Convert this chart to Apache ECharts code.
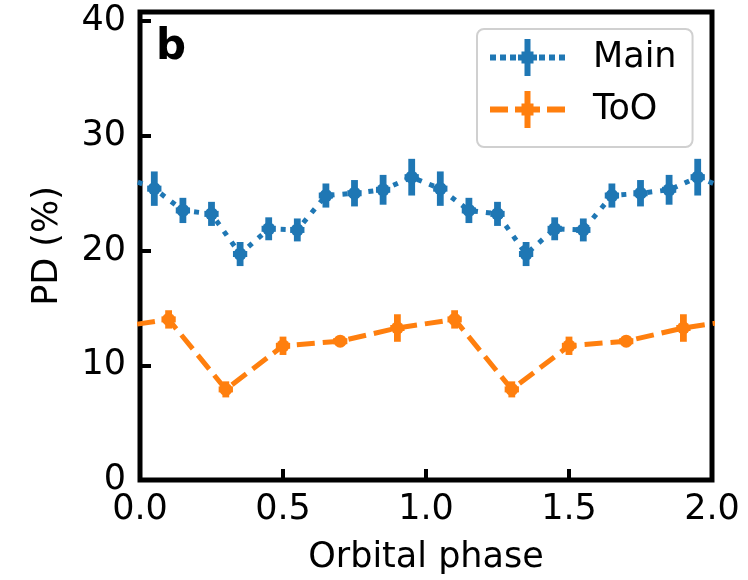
<!DOCTYPE html>
<html>
<head>
<meta charset="utf-8">
<script src="https://cdn.jsdelivr.net/npm/echarts@6/dist/echarts.min.js"></script>
<style>html,body{margin:0;padding:0;background:#fff}#c{width:748px;height:580px}</style>
</head>
<body>
<div id="c"></div>
<script>
// Main (blue) — phases incl. wrapped points just outside [0,2]
const mainPhase = [-0.05, 0.05, 0.15, 0.25, 0.35, 0.45, 0.55, 0.65, 0.75, 0.85, 0.95,
                   1.05, 1.15, 1.25, 1.35, 1.45, 1.55, 1.65, 1.75, 1.85, 1.95, 2.05];
const mainPD    = [26.4, 25.4, 23.5, 23.2, 19.7, 21.9, 21.8, 24.8, 25.0, 25.3, 26.4,
                   25.4, 23.5, 23.2, 19.7, 21.9, 21.8, 24.8, 25.0, 25.3, 26.4, 25.4];
const mainErr   = [1.6, 1.5, 1.1, 1.05, 1.05, 1.0, 1.0, 1.05, 1.15, 1.3, 1.6,
                   1.5, 1.1, 1.05, 1.05, 1.0, 1.0, 1.05, 1.15, 1.3, 1.6, 1.5];
// ToO (orange)
const tooPhase = [-0.1, 0.1, 0.3, 0.5, 0.7, 0.9, 1.1, 1.3, 1.5, 1.7, 1.9, 2.1];
const tooPD    = [13.25, 14.0, 7.9, 11.7, 12.1, 13.25, 14.0, 7.9, 11.7, 12.1, 13.25, 14.0];
const tooErr   = [1.2, 0.8, 0.7, 0.8, 0.4, 1.2, 0.8, 0.7, 0.8, 0.4, 1.2, 0.8];
const phaseErr = 0.025;

const xTicks = [0, 0.5, 1.0, 1.5, 2.0];
const yTicks = [0, 10, 20, 30, 40];

const BLUE = '#1f77b4', ORANGE = '#ff7f0e';
const FONT = 'DejaVu Sans';

function lineData(px, py) { return px.map((x, i) => [x, py[i]]); }
function errData(px, py, pe) {
  const out = [];
  px.forEach((x, i) => { if (x >= 0 && x <= 2) out.push([x, py[i], phaseErr, pe[i]]); });
  return out;
}
function renderErr(params, api) {
  const x = api.value(0), y = api.value(1), xe = api.value(2), ye = api.value(3);
  const c = api.coord([x, y]);
  const t = api.coord([x, y + ye]), b = api.coord([x, y - ye]);
  const l = api.coord([x - xe, y]), r = api.coord([x + xe, y]);
  const color = api.visual('color');
  return {type: 'group', children: [
    {type: 'rect', shape: {x: c[0] - 3.4, y: t[1], width: 6.8, height: b[1] - t[1]}, style: {fill: color}},
    {type: 'rect', shape: {x: l[0], y: c[1] - 3, width: r[0] - l[0], height: 6}, style: {fill: color}}
  ]};
}

const mainIcon = 'path://M0,15.5h6v6h-6z M10,15.5h6v6h-6z M20,15.5h6v6h-6z M28,15.5h19v6h-19z M49,15.5h6v6h-6z M59,15.5h6v6h-6z M69,15.5h6v6h-6z M34.5,0h6v37h-6z M31.5,12.5h12v12h-12z';
const tooIcon = 'path://M0,15.5h18v6h-18z M25,15.5h25v6h-25z M57,15.5h18v6h-18z M34.5,0h6v37h-6z M31.5,12.5h12v12h-12z';

const chart = echarts.init(document.getElementById('c'), null, {renderer: 'canvas'});
chart.setOption({
  animation: false,
  title: {text: 'b', left: 151, top: 22, textStyle: {fontFamily: FONT, fontWeight: 'bold', fontSize: 42, color: '#000'}},
  grid: {left: 140, right: 36, top: 12, bottom: 98, show: true, borderColor: '#000', borderWidth: 5, backgroundColor: 'transparent'},
  legend: {
    orient: 'vertical', left: 477, top: 29,
    padding: [10, 16, 19, 13], itemGap: 15, itemWidth: 75, itemHeight: 37,
    backgroundColor: '#fff', borderColor: '#d0d0d0', borderWidth: 2, borderRadius: 7,
    itemStyle: {borderWidth: 0},
    textStyle: {fontFamily: FONT, fontSize: 35, color: '#000', padding: [0, 0, 0, 23]},
    data: [{name: 'Main', icon: mainIcon}, {name: 'ToO', icon: tooIcon}]
  },
  xAxis: {
    type: 'value', min: 0, max: 2, interval: 0.5,
    name: 'Orbital phase', nameLocation: 'middle', nameGap: 60,
    nameTextStyle: {fontFamily: FONT, fontSize: 35, color: '#000'},
    axisLine: {show: false},
    axisTick: {show: true, inside: true, length: 11, lineStyle: {color: '#000', width: 4}},
    axisLabel: {fontFamily: FONT, fontSize: 35, color: '#000', margin: 12, formatter: v => v.toFixed(1),
                customValues: xTicks},
    splitLine: {show: false}
  },
  yAxis: {
    type: 'value', min: 0, max: 40.8, interval: 10,
    name: 'PD (%)', nameLocation: 'middle', nameGap: 75,
    nameTextStyle: {fontFamily: FONT, fontSize: 35, color: '#000'},
    axisLine: {show: false},
    axisTick: {show: true, inside: true, length: 11, lineStyle: {color: '#000', width: 4}, customValues: yTicks},
    axisLabel: {fontFamily: FONT, fontSize: 35, color: '#000', margin: 14, customValues: yTicks},
    splitLine: {show: false}
  },
  series: [
    {name: 'Main err', type: 'custom', renderItem: renderErr, itemStyle: {color: BLUE},
     encode: {x: 0, y: 1}, data: errData(mainPhase, mainPD, mainErr), z: 3},
    {name: 'ToO err', type: 'custom', renderItem: renderErr, itemStyle: {color: ORANGE},
     encode: {x: 0, y: 1}, data: errData(tooPhase, tooPD, tooErr), z: 3},
    {name: 'Main', type: 'line', data: lineData(mainPhase, mainPD), clip: true,
     symbol: 'circle', symbolSize: 13, showAllSymbol: true,
     itemStyle: {color: BLUE, borderWidth: 0},
     lineStyle: {color: BLUE, width: 5, type: [5, 8], cap: 'butt'}, z: 4},
    {name: 'ToO', type: 'line', data: lineData(tooPhase, tooPD), clip: true,
     symbol: 'circle', symbolSize: 13, showAllSymbol: true,
     itemStyle: {color: ORANGE, borderWidth: 0},
     lineStyle: {color: ORANGE, width: 5, type: [18, 8], cap: 'butt'}, z: 4}
  ]
});
</script>
</body>
</html>
